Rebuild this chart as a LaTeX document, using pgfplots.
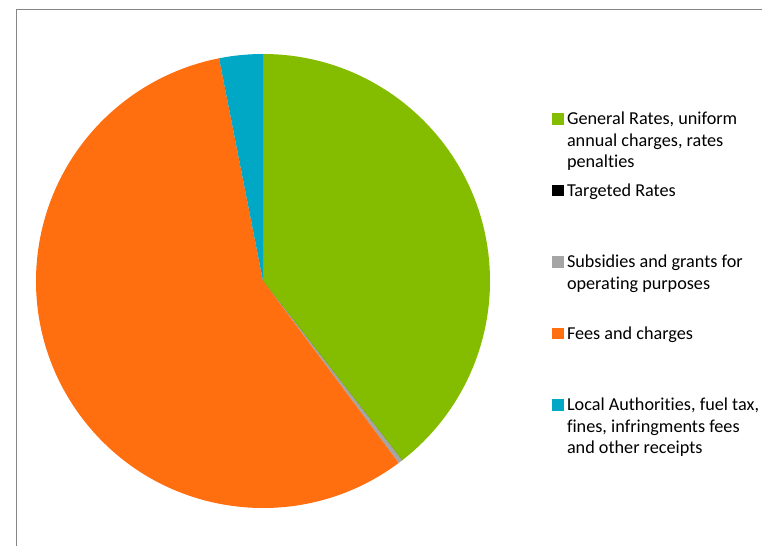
\documentclass[border=0pt]{standalone}
\usepackage{pgfplots}
\pgfplotsset{compat=1.18}
\usepackage{fontspec}
\setmainfont{Carlito}[Ligatures=NoCommon]
\definecolor{cGreen}{RGB}{132,189,0}
\definecolor{cOrange}{RGB}{255,110,15}
\definecolor{cBlue}{RGB}{0,168,198}
\definecolor{cGray}{RGB}{165,165,165}
\definecolor{cFrame}{RGB}{134,134,134}
% slice values (percent)
\pgfmathsetmacro\vA{39.5}% General Rates
\pgfmathsetmacro\vB{0}% Targeted Rates
\pgfmathsetmacro\vC{0.3}% Subsidies
\pgfmathsetmacro\vD{57.1}% Fees and charges
\pgfmathsetmacro\vE{3.1}% Local Authorities
\pgfmathsetmacro\aA{90}
\pgfmathsetmacro\aB{\aA-3.6*\vA}
\pgfmathsetmacro\aC{\aB-3.6*\vB}
\pgfmathsetmacro\aD{\aC-3.6*\vC}
\pgfmathsetmacro\aE{\aD-3.6*\vD}
\pgfmathsetmacro\aF{\aE-3.6*\vE}
\newcommand{\lt}[1]{\raisebox{0pt}[15bp][0pt]{\parbox[t]{230bp}{\rule{0pt}{15bp}#1}}}
\begin{document}
\begin{tikzpicture}
\useasboundingbox (0bp,0bp) rectangle (762bp,546bp);
\draw[cFrame, line width=1bp] (16bp,-2bp) -- (16bp,536bp) -- (764bp,536bp);
\begin{axis}[
  at={(263bp,265bp)}, anchor=origin,
  scale only axis, width=454bp, height=454bp,
  xmin=-1, xmax=1, ymin=-1, ymax=1,
  hide axis, clip=false,
  legend image code/.code={\fill[#1] (0bp,0bp) rectangle (11.5bp,11.5bp);},
  legend style={draw=none, fill=none, inner sep=0pt, outer sep=0pt,
    at={(1.1366,0.8767)}, anchor=north west,
    font=\fontsize{18.2bp}{21.5bp}\selectfont,
    nodes={inner sep=0pt, outer sep=0pt},
    cells={anchor=base west},
    column sep=3.5bp, row sep=55bp},
]
\addplot[fill=cGreen, draw=none] coordinates {(0,0)} -- ++(\aA:227bp) arc[start angle=\aA, end angle=\aB, radius=227bp] -- cycle;
\addlegendentry{\lt{General Rates, uniform\\annual charges, rates\\penalties}}
\addplot[fill=black, draw=none] coordinates {(0,0)} -- ++(\aB:227bp) arc[start angle=\aB, end angle=\aC, radius=227bp] -- cycle;
\addlegendentry{\lt{Targeted Rates}}
\addplot[fill=cGray, draw=none] coordinates {(0,0)} -- ++(\aC:227bp) arc[start angle=\aC, end angle=\aD, radius=227bp] -- cycle;
\addlegendentry{\lt{Subsidies and grants for\\operating purposes}}
\addplot[fill=cOrange, draw=none] coordinates {(0,0)} -- ++(\aD:227bp) arc[start angle=\aD, end angle=\aE, radius=227bp] -- cycle;
\addlegendentry{\lt{Fees and charges}}
\addplot[fill=cBlue, draw=none] coordinates {(0,0)} -- ++(\aE:227bp) arc[start angle=\aE, end angle=\aF, radius=227bp] -- cycle;
\addlegendentry{\lt{Local Authorities, fuel tax,\\fines, infringments fees\\and other receipts}}
\end{axis}
\end{tikzpicture}
\end{document}
